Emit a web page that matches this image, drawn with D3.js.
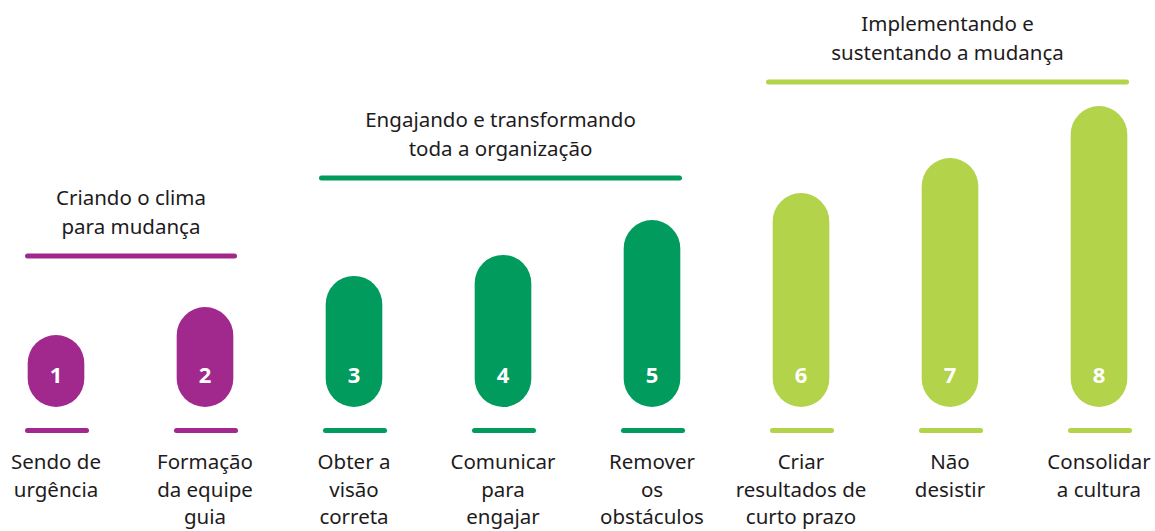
<!DOCTYPE html>
<html><head><meta charset="utf-8">
<script src="https://cdn.jsdelivr.net/npm/d3@7"></script>
<style>
html,body{margin:0;padding:0;background:#fff;}
svg{display:block;}
text{font-family:"Noto Sans",sans-serif;}
</style></head>
<body>
<svg id="chart" width="1155" height="531"></svg>
<script>
const steps = ["1","2","3","4","5","6","7","8"];
const values = [2.4, 3.33, 4.37, 5.07, 6.23, 7.13, 8.3, 10.03];
const labels = [
  ["Sendo de","urgência"],
  ["Formação","da equipe","guia"],
  ["Obter a","visão","correta"],
  ["Comunicar","para","engajar"],
  ["Remover","os","obstáculos"],
  ["Criar","resultados de","curto prazo"],
  ["Não","desistir"],
  ["Consolidar","a cultura"]
];
const groupNames = [
  ["Criando o clima","para mudança"],
  ["Engajando e transformando","toda a organização"],
  ["Implementando e","sustentando a mudança"]
];
const groupSteps = [["1","2"],["3","4","5"],["6","7","8"]];
const groupColors = ["#A1288C","#009B5D","#B2D34A"];

const svg = d3.select("#chart");
const x = d3.scaleBand().domain(steps).range([-18.5, 1173.5]).paddingInner(0.62).paddingOuter(0.31);
const y = d3.scaleLinear().domain([0, 10]).range([407, 107]);
const bw = x.bandwidth();
const groupOf = s => groupSteps.findIndex(g => g.includes(s));
const color = s => groupColors[groupOf(s)];

// bars
svg.selectAll("rect.bar").data(steps).join("rect")
  .attr("class","bar")
  .attr("x", d => x(d))
  .attr("width", bw)
  .attr("y", (d,i) => y(values[i]))
  .attr("height", (d,i) => y(0) - y(values[i]))
  .attr("rx", bw/2).attr("ry", bw/2)
  .attr("fill", color);

// numbers
svg.selectAll("text.num").data(steps).join("text")
  .attr("class","num")
  .attr("x", d => x(d) + bw/2)
  .attr("y", 383)
  .attr("text-anchor","middle")
  .attr("fill","#fff")
  .attr("font-weight","bold")
  .attr("font-size", 22)
  .text(d => d);

// small lines
svg.selectAll("line.tick").data(steps).join("line")
  .attr("class","tick")
  .attr("x1", d => x(d) + bw/2 - 28.5)
  .attr("x2", d => x(d) + bw/2 + 30.5)
  .attr("y1", 430.5).attr("y2", 430.5)
  .attr("stroke", color)
  .attr("stroke-width", 5)
  .attr("stroke-linecap","round");

// labels
const lab = svg.selectAll("text.lab").data(steps).join("text")
  .attr("class","lab")
  .attr("text-anchor","middle")
  .attr("fill","#1e1b1c")
  .attr("font-size", 20.5);
lab.each(function(d,i){
  d3.select(this).selectAll("tspan").data(labels[i]).join("tspan")
    .attr("x", x(d) + bw/2)
    .attr("y", (t,j) => 469 + j*27.5)
    .text(t => t);
});

// group headers
const lineY = [256, 178, 82];
groupSteps.forEach((g, gi) => {
  const x1 = x(g[0]) + bw/2 - 28.5;
  const x2 = x(g[g.length-1]) + bw/2 + 30.5;
  const gx1 = gi === 0 ? x1 : x1 - 4;
  const gx2 = gi === 0 ? x2 - 1 : x2 - 3;
  svg.append("line")
    .attr("x1", gx1).attr("x2", gx2)
    .attr("y1", lineY[gi]).attr("y2", lineY[gi])
    .attr("stroke", groupColors[gi])
    .attr("stroke-width", 5)
    .attr("stroke-linecap","round");
  const cx = (gx1 + gx2)/2;
  const t = svg.append("text")
    .attr("text-anchor","middle")
    .attr("fill","#1e1b1c")
    .attr("font-size", 20.5);
  t.selectAll("tspan").data(groupNames[gi]).join("tspan")
    .attr("x", cx)
    .attr("y", (s,j) => lineY[gi] - 51 + j*28.5)
    .text(s => s);
});
</script>
</body></html>
